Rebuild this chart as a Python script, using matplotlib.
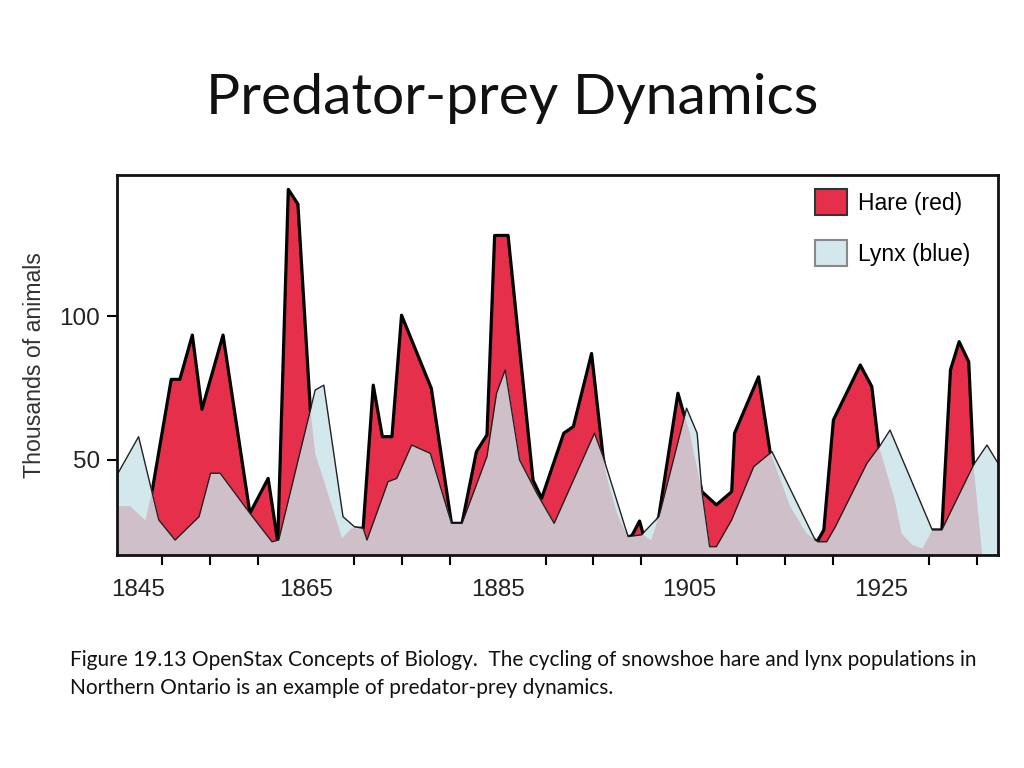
import matplotlib
matplotlib.use("Agg")
import matplotlib.pyplot as plt
from matplotlib.patches import Patch

# hare population (thousands)
hare_years = [1845.35, 1846.7, 1848.3, 1849.0, 1851.0, 1851.9, 1853.2, 1854.2, 1856.4,
              1859.2, 1861.1, 1862.1, 1863.2, 1864.2, 1865.5, 1866.0, 1868.8, 1869.8,
              1871.0, 1872.05, 1873.0, 1874.0, 1875.0, 1878.1, 1880.2, 1881.3, 1882.8,
              1883.9, 1884.7, 1886.1, 1888.7, 1889.6, 1891.9, 1892.9, 1894.8, 1896.0,
              1896.3, 1897.5, 1898.6, 1899.05, 1899.8, 1900.2, 1901.0, 1901.8, 1903.8,
              1904.4, 1905.0, 1906.3, 1907.8, 1909.4, 1909.7, 1912.2, 1913.4, 1915.5,
              1917.2, 1918.3, 1919.0, 1920.0, 1922.8, 1924.0, 1924.7, 1926.4, 1927.1,
              1928.2, 1929.3, 1930.3, 1931.3, 1932.2, 1933.1, 1934.1, 1934.6, 1935.5]
hare_vals = [34, 34, 29, 39, 78, 78, 93.4, 67.6, 93.4,
             31.5, 43.6, 21.6, 144, 138.9, 67.4, 52.3, 22.8, 26.3,
             26.3, 76, 58.1, 58.1, 100.3, 74.9, 28, 28, 52.9,
             58.7, 128, 128, 43, 36.7, 59.3, 61.6, 87, 51.2,
             45, 31, 23, 24, 28.8, 24, 22, 30.3, 73.2,
             66.2, 60, 39, 34.4, 39, 59.3, 78.9, 52.9, 33.8,
             24.5, 21.6, 25.7, 63.9, 83, 75.5, 55.2, 36, 24.5,
             20.5, 19.3, 25.7, 25.7, 81.3, 91.1, 84.1, 48.3, 17]

# lynx population (thousands)
lynx_years = [1845.35, 1847.6, 1849.7, 1851.4, 1853.9, 1855.1, 1856.1, 1859.2, 1861.5,
              1862.2, 1866.0, 1866.9, 1868.9, 1870.1, 1871.0, 1871.4, 1873.6, 1874.5,
              1876.05, 1878.0, 1880.2, 1881.3, 1883.9, 1884.9, 1885.8, 1887.3, 1889.1,
              1890.9, 1895.1, 1896.0, 1898.6, 1900.0, 1901.8, 1902.0, 1904.7, 1905.8,
              1906.3, 1907.1, 1907.8, 1909.4, 1911.7, 1913.6, 1918.1, 1918.4, 1919.3,
              1920.2, 1923.5, 1924.9, 1925.9, 1930.3, 1931.3, 1934.6, 1936.0, 1937.15]
lynx_vals = [44.8, 58.1, 29.2, 22.2, 30.3, 45.4, 45.4, 31.5, 21.6,
             22.2, 74.3, 76, 30.3, 26.8, 26.3, 22.2, 42.5, 43.6,
             55.2, 52.3, 28, 28, 51.2, 73.2, 81.3, 50, 38.4,
             28, 59.3, 51.2, 23.4, 24, 30.3, 32.6, 68, 59.3,
             39, 19.9, 19.9, 29.2, 47.7, 52.9, 22.2, 21.6, 21.6,
             26.8, 48.9, 55.2, 60.4, 25.7, 25.7, 48.3, 55.2, 48.9]

tick_years = list(range(1850, 1936, 5))
label_years = ['1845', '1865', '1885', '1905', '1925']
label_pos = [1847.5, 1865, 1885, 1905, 1925]

red = '#e6304b'
blue = '#d3e8ec'
mix = '#cfbfc8'
y_low, y_high = 17, 149

fig = plt.figure(figsize=(10.24, 7.68), dpi=100)
ax = fig.add_axes([117/1024, 1 - 555/768, (998 - 117)/1024, (555 - 175)/768])

hare_fill = ax.fill_between(hare_years, hare_vals, y_low, color=red, lw=0, zorder=1)
ax.plot(hare_years, hare_vals, color='black', lw=2.3, zorder=1.5)
ax.fill_between(lynx_years, lynx_vals, y_low, color=blue, lw=0, zorder=2)
# where lynx and hare overlap the fill turns greyish pink
overlap = ax.fill_between(lynx_years, lynx_vals, y_low, color=mix, lw=0, zorder=3)
overlap.set_clip_path(hare_fill.get_paths()[0], ax.transData)
ax.plot(lynx_years, lynx_vals, color='#222222', lw=1.0, zorder=4)

ax.set_xlim(1845.35, 1937.15)
ax.set_ylim(y_low, y_high)

for s in ax.spines.values():
    s.set_linewidth(2)
    s.set_color('#111111')
    s.set_zorder(5)

ax.set_xticks(tick_years, minor=True)
ax.set_xticks(label_pos)
ax.set_xticklabels(label_years)
ax.tick_params(axis='x', which='minor', length=7, width=1.5, direction='out')
ax.tick_params(axis='x', which='major', length=0, pad=17)
ax.set_yticks([50, 100])
ax.tick_params(axis='y', length=7, width=1.5, pad=5)
for lab in ax.get_xticklabels() + ax.get_yticklabels():
    lab.set_fontfamily('Liberation Sans')
    lab.set_fontsize(17.5)
    lab.set_color('#222222')

ax.set_ylabel('Thousands of animals', fontsize=16.7, family='Liberation Sans',
              color='#333333', labelpad=10)

handles = [Patch(facecolor=red, edgecolor='#333333', lw=1.5, label='Hare (red)'),
           Patch(facecolor=blue, edgecolor='#888888', lw=1.5, label='Lynx (blue)')]
ax.legend(handles=handles, loc='upper left', bbox_to_anchor=(0.784, 0.98), frameon=False,
          prop={'family': 'Liberation Sans', 'size': 16.5},
          handlelength=1.4, handleheight=1.35, labelspacing=1.1,
          handletextpad=0.5, borderaxespad=0.0, borderpad=0.3)

fig.text(0.5, 1 - 98/768, 'Predator-prey Dynamics', ha='center', va='center',
         fontsize=41, family='Lato', color='#111111')
fig.text(70/1024, 1 - 660/768,
         'Figure 19.13 OpenStax Concepts of Biology.  The cycling of snowshoe hare and lynx populations in',
         ha='left', va='center', fontsize=15, family='Lato', color='#111111')
fig.text(70/1024, 1 - 688/768,
         'Northern Ontario is an example of predator-prey dynamics.',
         ha='left', va='center', fontsize=15, family='Lato', color='#111111')

fig.savefig('out.png', dpi=100, facecolor='white')
